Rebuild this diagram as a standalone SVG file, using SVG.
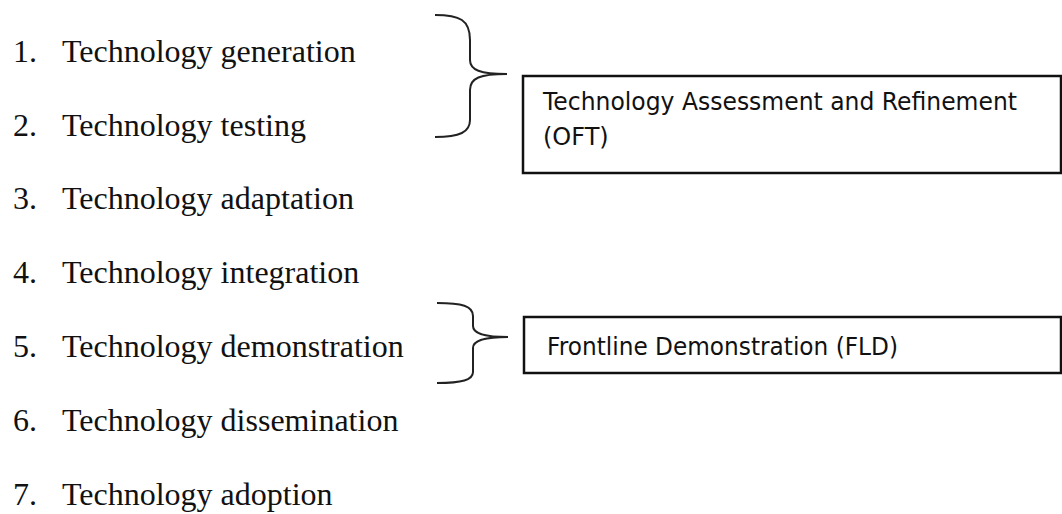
<svg xmlns="http://www.w3.org/2000/svg" width="1062" height="514" viewBox="0 0 1062 514">
<style>
.item{font-family:"Liberation Serif","Times New Roman",serif;font-size:32px;fill:#111;}
.lbl{font-family:"DejaVu Sans","Liberation Sans",sans-serif;font-size:24px;fill:#111;}
.box{fill:#fff;stroke:#111;stroke-width:2.5;}
.brace{fill:none;stroke:#222;stroke-width:2;}
</style>
<rect width="1062" height="514" fill="#fff"/>
<g id="list">
<text class="item" x="13" y="62">1.</text><text class="item" x="62" y="62">Technology generation</text>
<text class="item" x="13" y="136">2.</text><text class="item" x="62" y="136">Technology testing</text>
<text class="item" x="13" y="209">3.</text><text class="item" x="62" y="209">Technology adaptation</text>
<text class="item" x="13" y="283">4.</text><text class="item" x="62" y="283">Technology integration</text>
<text class="item" x="13" y="357">5.</text><text class="item" x="62" y="357">Technology demonstration</text>
<text class="item" x="13" y="431">6.</text><text class="item" x="62" y="431">Technology dissemination</text>
<text class="item" x="13" y="505">7.</text><text class="item" x="62" y="505">Technology adoption</text>
</g>
<g id="connectors">
<path class="brace" d="M435,15 C460,15 470,20 470,40 L470,60 C470,70 480,74 507,74 C480,74 470,78 470,90 L470,120 C470,132 460,137 435,137"/>
<path class="brace" d="M437,303 C462,303 473,306 473,316 L473,326 C473,333 482,337 508,337 C482,337 473,341 473,348 L473,372 C473,380 462,383 437,383"/>
</g>
<g id="oft">
<rect class="box" x="523" y="76" width="538" height="97"/>
<text class="lbl" x="543" y="110" textLength="474" lengthAdjust="spacingAndGlyphs">Technology Assessment and Refinement</text>
<text class="lbl" x="543" y="145">(OFT)</text>
</g>
<g id="fld">
<rect class="box" x="524" y="317" width="537" height="56"/>
<text class="lbl" x="547" y="355" textLength="351" lengthAdjust="spacingAndGlyphs">Frontline Demonstration (FLD)</text>
</g>
</svg>
